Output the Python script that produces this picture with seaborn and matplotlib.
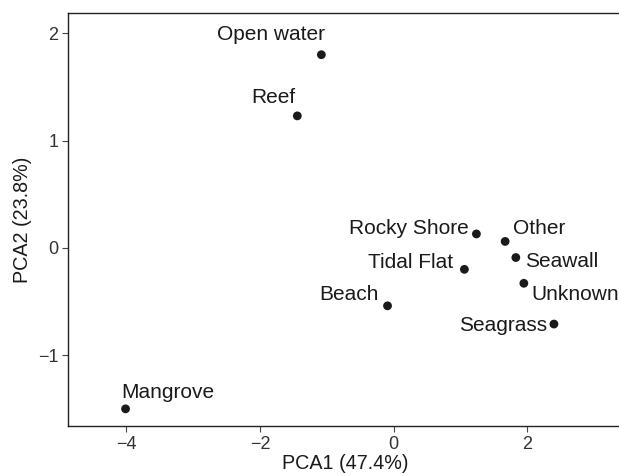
import seaborn as sns
import matplotlib.pyplot as plt
import pandas as pd

# PCA site scores
habitats = ['Open water', 'Reef', 'Mangrove', 'Beach', 'Rocky Shore', 'Other',
            'Tidal Flat', 'Seawall', 'Unknown', 'Seagrass']
pca1 = [-1.08, -1.44, -4.01, -0.09, 1.24, 1.67, 1.06, 1.83, 1.95, 2.40]
pca2 = [1.80, 1.23, -1.50, -0.54, 0.13, 0.06, -0.20, -0.09, -0.33, -0.71]

df = pd.DataFrame({'habitat': habitats, 'PCA1': pca1, 'PCA2': pca2})

# label placement (offset in points, horizontal alignment)
label_pos = {
    'Open water': ((-36, 14.5), 'center'),
    'Reef': ((-17, 13), 'center'),
    'Mangrove': ((-3, 12), 'left'),
    'Beach': ((-6.5, 8.5), 'right'),
    'Rocky Shore': ((-5.5, 4), 'right'),
    'Other': ((5.5, 9), 'left'),
    'Tidal Flat': ((-8, 5), 'right'),
    'Seawall': ((6.5, -3), 'left'),
    'Unknown': ((5.5, -8), 'left'),
    'Seagrass': ((-5, -1), 'right'),
}

sns.set_style('white')
plt.rcParams['font.family'] = ['Liberation Sans', 'DejaVu Sans']

fig = plt.figure(figsize=(6.19, 4.76), dpi=100)
ax = fig.add_axes([0.110, 0.105, 0.895, 0.868])
sns.scatterplot(data=df, x='PCA1', y='PCA2', color='#1a1a1a', s=40,
                edgecolor='none', ax=ax)

for _, row in df.iterrows():
    off, ha = label_pos[row['habitat']]
    ax.annotate(row['habitat'], (row['PCA1'], row['PCA2']), xytext=off,
                textcoords='offset points', ha=ha, va='center',
                fontsize=15, color='#1a1a1a')

ax.set_xlim(-4.87, 3.42)
ax.set_ylim(-1.66, 2.19)
ax.set_xticks([-4, -2, 0, 2])
ax.set_yticks([-1, 0, 1, 2])
ax.set_xticklabels(['\u22124', '\u22122', '0', '2'])
ax.set_yticklabels(['\u22121', '0', '1', '2'])
ax.tick_params(axis='both', direction='out', length=4, width=0.8,
               color='#444444', labelsize=13, labelcolor='#333333', pad=3,
               bottom=True, left=True)
for sp in ax.spines.values():
    sp.set_color('#222222')
    sp.set_linewidth(1.0)
ax.set_xlabel('PCA1 (47.4%)', fontsize=14.2, color='#1a1a1a', labelpad=1)
ax.set_ylabel('PCA2 (23.8%)', fontsize=14.2, color='#1a1a1a', labelpad=4)

fig.savefig('out.png', dpi=100)
